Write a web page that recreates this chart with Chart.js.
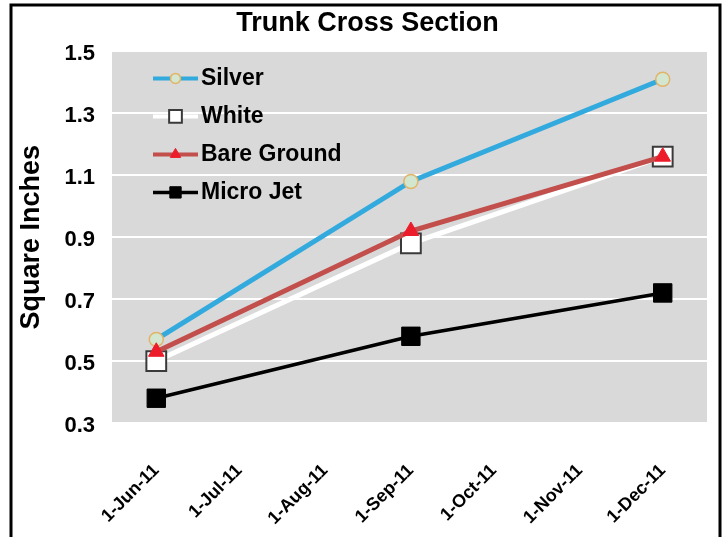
<!DOCTYPE html>
<html>
<head>
<meta charset="utf-8">
<script src="https://cdn.jsdelivr.net/npm/chart.js@4/dist/chart.umd.min.js"></script>
<style>
  html, body { margin: 0; padding: 0; background: #ffffff; }
  #wrap { width: 727px; height: 537px; }
</style>
</head>
<body>
<div id="wrap"><canvas id="chart" width="727" height="537"></canvas></div>
<script>
// Measurement dates and trunk cross-section area (square inches) per mulch treatment
const sampleDates = ['2011-06-01', '2011-09-01', '2011-12-01'];
const silver      = [0.57, 1.08, 1.41];
const white       = [0.50, 0.88, 1.16];
const bareGround  = [0.53, 0.92, 1.16];
const microJet    = [0.38, 0.58, 0.72];

// Date axis: month ticks and their labels
const monthTicks  = ['2011-06-01', '2011-07-01', '2011-08-01', '2011-09-01', '2011-10-01', '2011-11-01', '2011-12-01'];
const monthLabels = ['1-Jun-11', '1-Jul-11', '1-Aug-11', '1-Sep-11', '1-Oct-11', '1-Nov-11', '1-Dec-11'];
const axisStart = '2011-05-16';
const axisEnd   = '2011-12-17';

// Value axis range
const yMin = 0.3, yMax = 1.5, yStep = 0.2;

const FONT = '"Liberation Sans", Arial, Helvetica, sans-serif';

function dayNum(iso) {
  const [y, m, d] = iso.split('-').map(Number);
  return Date.UTC(y, m - 1, d) / 86400000;
}
function points(values) {
  return values.map((v, i) => ({ x: dayNum(sampleDates[i]), y: v }));
}

// Gray plot background
const plotBackground = {
  id: 'plotBackground',
  beforeDraw(chart) {
    const { ctx, chartArea: a } = chart;
    ctx.save();
    ctx.fillStyle = '#d9d9d9';
    ctx.fillRect(a.left, a.top, a.right - a.left, a.bottom - a.top);
    ctx.restore();
  }
};

// Black frame around the figure
const frame = {
  id: 'frame',
  afterDraw(chart) {
    const ctx = chart.ctx;
    const w = chart.width, h = chart.height;
    ctx.save();
    ctx.strokeStyle = '#000';
    ctx.lineWidth = 3;
    ctx.beginPath();
    ctx.moveTo(11, h);
    ctx.lineTo(11, 5);
    ctx.lineTo(w - 7, 5);
    ctx.lineTo(w - 7, h);
    ctx.stroke();
    ctx.restore();
  }
};

function drawMarker(ctx, style, radius, x, y) {
  const h = Chart.helpers;
  if (h && typeof h.drawPoint === 'function') {
    h.drawPoint(ctx, { pointStyle: style, rotation: 0, radius: radius, borderWidth: ctx.lineWidth }, x, y);
    return;
  }
  ctx.beginPath();
  if (style === 'circle') {
    ctx.arc(x, y, radius, 0, Math.PI * 2);
  } else if (style === 'triangle') {
    ctx.moveTo(x, y - radius);
    ctx.lineTo(x + radius * 0.866, y + radius * 0.5);
    ctx.lineTo(x - radius * 0.866, y + radius * 0.5);
    ctx.closePath();
  } else {
    const s = radius * Math.SQRT1_2;
    ctx.rect(x - s, y - s, 2 * s, 2 * s);
  }
  ctx.fill();
  ctx.stroke();
}

// Legend inside the plot: line segment with marker, then the series name
const insideLegend = {
  id: 'insideLegend',
  afterDatasetsDraw(chart, args, opts) {
    const { ctx, chartArea: a } = chart;
    ctx.save();
    chart.data.datasets.forEach((ds, i) => {
      const y = a.top + opts.top + i * opts.rowGap;
      const x0 = a.left + opts.left;
      const x1 = x0 + opts.lineLength;
      ctx.strokeStyle = ds.borderColor;
      ctx.lineWidth = Math.min(ds.borderWidth, 4);
      ctx.beginPath();
      ctx.moveTo(x0, y);
      ctx.lineTo(x1, y);
      ctx.stroke();
      ctx.fillStyle = ds.pointBackgroundColor;
      ctx.strokeStyle = ds.pointBorderColor;
      ctx.lineWidth = ds.pointBorderWidth;
      drawMarker(ctx, ds.pointStyle, ds.legendMarkerRadius, (x0 + x1) / 2, y);
      ctx.fillStyle = '#000';
      ctx.font = 'bold 23px ' + FONT;
      ctx.textAlign = 'left';
      ctx.textBaseline = 'middle';
      ctx.fillText(ds.label, x1 + 3, y);
    });
    ctx.restore();
  }
};

new Chart(document.getElementById('chart'), {
  type: 'line',
  data: {
    datasets: [
      {
        label: 'Silver', data: points(silver), order: 1,
        borderColor: '#33aade', borderWidth: 5,
        pointStyle: 'circle', pointRadius: 7, legendMarkerRadius: 5,
        pointBackgroundColor: '#d3e6cf', pointBorderColor: '#e2b468', pointBorderWidth: 1.5
      },
      {
        label: 'White', data: points(white), order: 3,
        borderColor: '#ffffff', borderWidth: 5,
        pointStyle: 'rect', pointRadius: 14, legendMarkerRadius: 9,
        pointBackgroundColor: '#ffffff', pointBorderColor: '#3a3a3a', pointBorderWidth: 2
      },
      {
        label: 'Bare Ground', data: points(bareGround), order: 0,
        borderColor: '#c24f4c', borderWidth: 5,
        pointStyle: 'triangle', pointRadius: 9, legendMarkerRadius: 6,
        pointBackgroundColor: '#ec1c2a', pointBorderColor: '#ec1c2a', pointBorderWidth: 1
      },
      {
        label: 'Micro Jet', data: points(microJet), order: 2,
        borderColor: '#000000', borderWidth: 3.5,
        pointStyle: 'rect', pointRadius: 13, legendMarkerRadius: 8,
        pointBackgroundColor: '#000000', pointBorderColor: '#000000', pointBorderWidth: 1
      }
    ]
  },
  options: {
    responsive: false,
    animation: false,
    devicePixelRatio: 1,
    layout: { padding: { left: 12, right: 4, top: 0, bottom: 0 } },
    elements: { line: { tension: 0 } },
    scales: {
      x: {
        type: 'linear',
        position: 'bottom',
        min: dayNum(axisStart),
        max: dayNum(axisEnd),
        afterBuildTicks(scale) {
          scale.ticks = monthTicks.map(d => ({ value: dayNum(d) }));
        },
        afterFit(scale) { scale.height = 114; },
        ticks: {
          autoSkip: false,
          minRotation: 45,
          maxRotation: 45,
          padding: 37,
          color: '#000',
          font: { family: FONT, size: 18, weight: 'bold' },
          callback: (value, index) => monthLabels[index]
        },
        grid: { display: false, drawTicks: false },
        border: { display: false }
      },
      y: {
        type: 'linear',
        position: 'left',
        min: yMin,
        max: yMax,
        afterFit(scale) { scale.width = 100; },
        ticks: {
          stepSize: yStep,
          padding: 17,
          labelOffset: 3,
          color: '#000',
          font: { family: FONT, size: 22, weight: 'bold' },
          callback: v => Number(v).toFixed(1)
        },
        grid: { color: '#ffffff', lineWidth: 2, drawTicks: false },
        border: { display: false },
        title: {
          display: true,
          text: 'Square Inches',
          color: '#000',
          font: { family: FONT, size: 27, weight: 'bold' },
          padding: { top: 3, bottom: 0 }
        }
      },
      yRight: {
        type: 'linear',
        position: 'right',
        afterFit(scale) { scale.width = 16; },
        ticks: { display: false },
        grid: { display: false, drawTicks: false },
        border: { display: false }
      }
    },
    plugins: {
      title: {
        display: true,
        text: 'Trunk Cross Section',
        color: '#000',
        font: { family: FONT, size: 27, weight: 'bold' },
        padding: { top: 7, bottom: 12 }
      },
      legend: { display: false },
      tooltip: { enabled: false },
      insideLegend: { top: 27, left: 41, lineLength: 45, rowGap: 38 }
    }
  },
  plugins: [plotBackground, insideLegend, frame]
});
</script>
</body>
</html>
